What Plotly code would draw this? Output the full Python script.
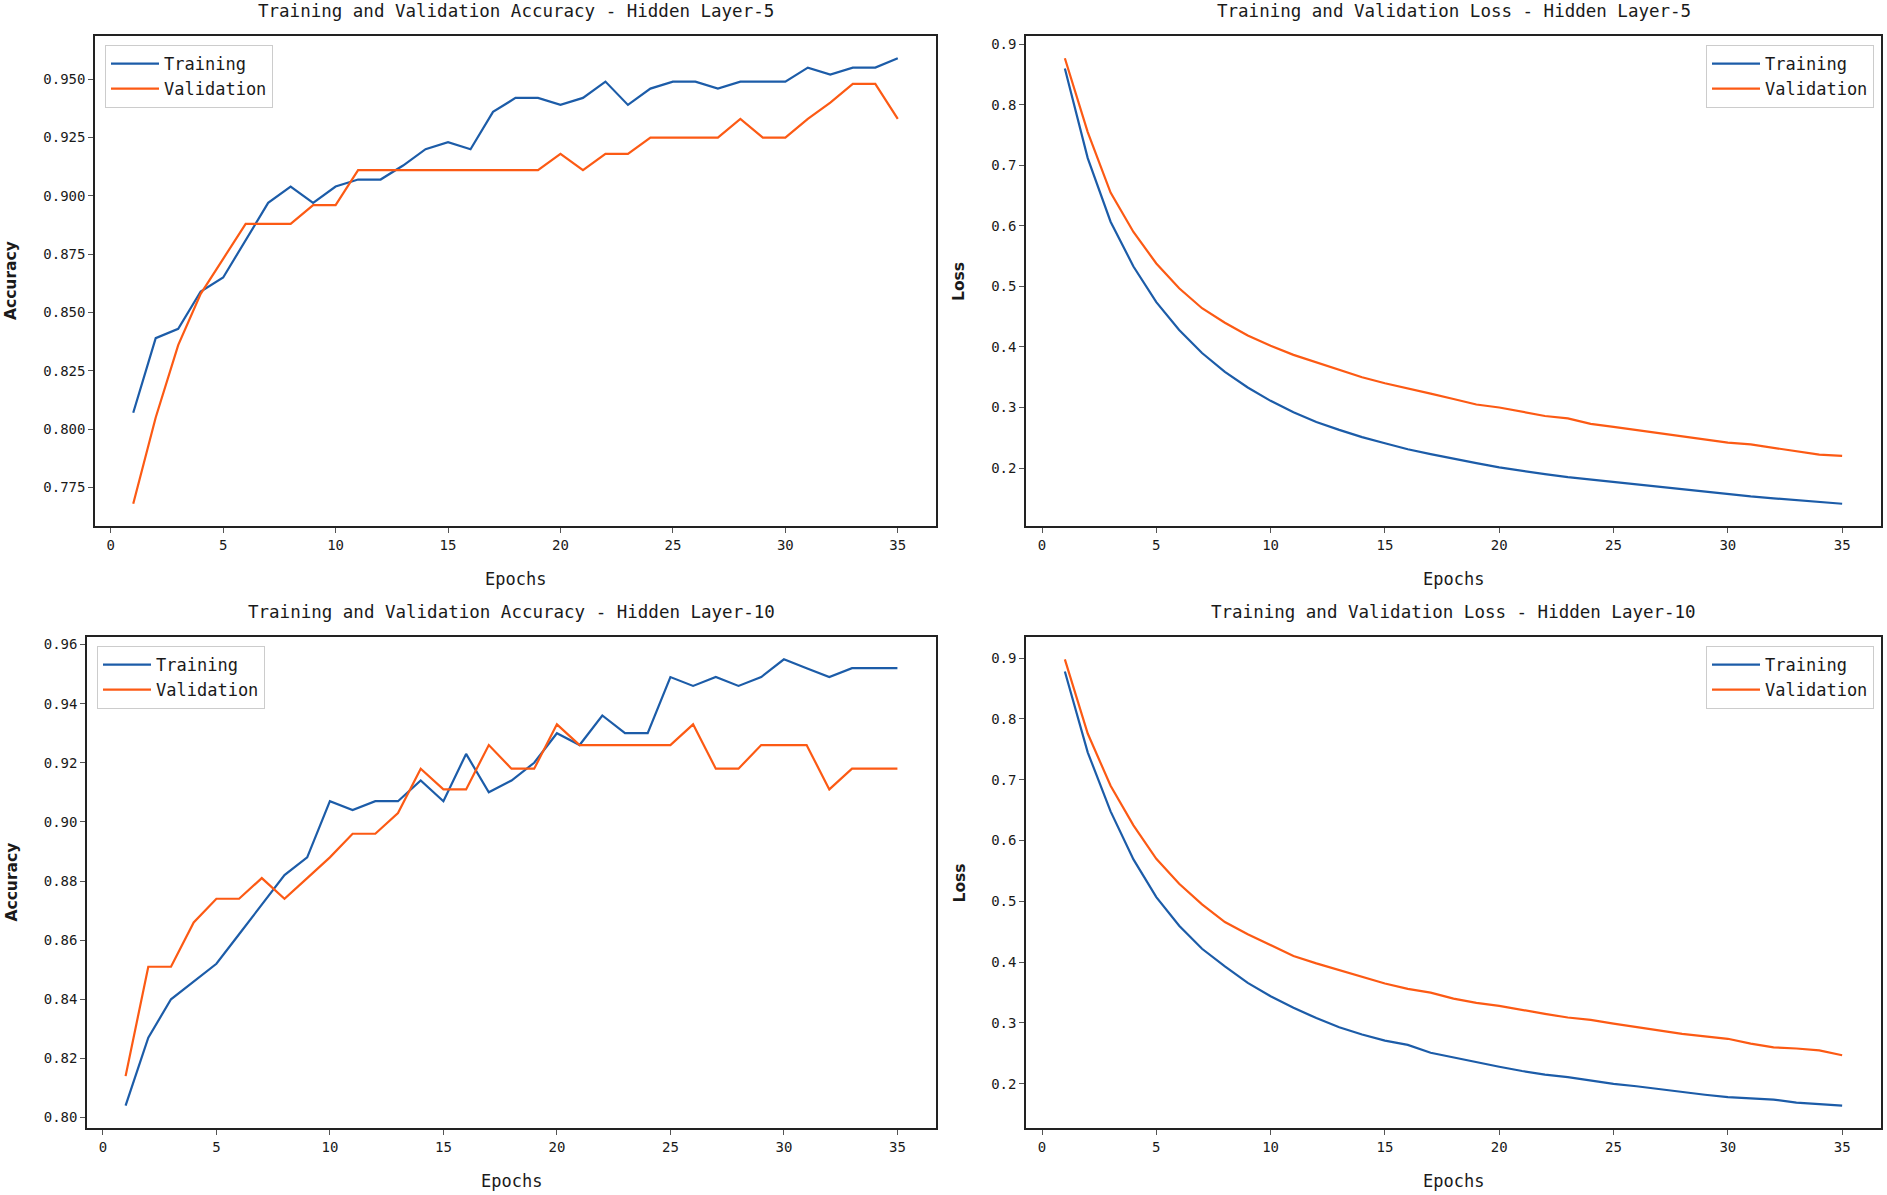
import plotly.graph_objects as go

epochs = list(range(1, 36))

acc5_train = [0.807, 0.839, 0.843, 0.859, 0.865, 0.881, 0.897, 0.904, 0.897, 0.904,
              0.907, 0.907, 0.913, 0.920, 0.923, 0.920, 0.936, 0.942, 0.942, 0.939,
              0.942, 0.949, 0.939, 0.946, 0.949, 0.949, 0.946, 0.949, 0.949, 0.949,
              0.955, 0.952, 0.955, 0.955, 0.959]
acc5_val = [0.768, 0.805, 0.836, 0.858, 0.873, 0.888, 0.888, 0.888, 0.896, 0.896,
            0.911, 0.911, 0.911, 0.911, 0.911, 0.911, 0.911, 0.911, 0.911, 0.918,
            0.911, 0.918, 0.918, 0.925, 0.925, 0.925, 0.925, 0.933, 0.925, 0.925,
            0.933, 0.940, 0.948, 0.948, 0.933]

loss5_train = [0.860, 0.712, 0.607, 0.533, 0.474, 0.428, 0.390, 0.359, 0.333, 0.311,
               0.292, 0.276, 0.263, 0.251, 0.241, 0.231, 0.223, 0.215, 0.208, 0.201,
               0.195, 0.190, 0.185, 0.181, 0.176, 0.172, 0.168, 0.164, 0.160, 0.156,
               0.153, 0.150, 0.147, 0.145, 0.141]
loss5_val = [0.877, 0.755, 0.655, 0.590, 0.538, 0.497, 0.464, 0.440, 0.419, 0.402,
             0.387, 0.375, 0.362, 0.350, 0.340, 0.332, 0.323, 0.314, 0.305, 0.300,
             0.293, 0.286, 0.282, 0.273, 0.268, 0.263, 0.257, 0.252, 0.247, 0.242,
             0.239, 0.233, 0.227, 0.222, 0.220]

acc10_train = [0.804, 0.827, 0.840, 0.846, 0.852, 0.862, 0.872, 0.882, 0.888, 0.907,
               0.904, 0.907, 0.907, 0.914, 0.907, 0.923, 0.910, 0.914, 0.920, 0.930,
               0.926, 0.936, 0.930, 0.930, 0.949, 0.946, 0.949, 0.946, 0.949, 0.955,
               0.952, 0.949, 0.952, 0.952, 0.952]
acc10_val = [0.814, 0.851, 0.851, 0.866, 0.874, 0.874, 0.881, 0.874, 0.881, 0.888,
             0.896, 0.896, 0.903, 0.918, 0.911, 0.911, 0.926, 0.918, 0.918, 0.933,
             0.926, 0.926, 0.926, 0.926, 0.926, 0.933, 0.918, 0.918, 0.926, 0.926,
             0.926, 0.911, 0.918, 0.918, 0.918]

loss10_train = [0.878, 0.745, 0.648, 0.569, 0.507, 0.460, 0.422, 0.393, 0.366, 0.344,
                0.325, 0.308, 0.293, 0.281, 0.271, 0.264, 0.251, 0.243, 0.235, 0.228,
                0.221, 0.215, 0.211, 0.205, 0.200, 0.196, 0.191, 0.187, 0.182, 0.178,
                0.176, 0.174, 0.169, 0.166, 0.164]
loss10_val = [0.898, 0.776, 0.690, 0.625, 0.570, 0.529, 0.495, 0.466, 0.446, 0.428,
              0.410, 0.398, 0.387, 0.377, 0.365, 0.356, 0.350, 0.340, 0.333, 0.328,
              0.321, 0.315, 0.309, 0.305, 0.299, 0.293, 0.287, 0.282, 0.278, 0.274,
              0.266, 0.260, 0.258, 0.255, 0.247]

titles = ["Training and Validation Accuracy - Hidden Layer-5",
          "Training and Validation Loss - Hidden Layer-5",
          "Training and Validation Accuracy - Hidden Layer-10",
          "Training and Validation Loss - Hidden Layer-10"]
ylabels = ["Accuracy", "Loss", "Accuracy", "Loss"]
series_names = ["Training", "Validation"]
x_ticks = [0, 5, 10, 15, 20, 25, 30, 35]
acc5_ticks = [0.775, 0.800, 0.825, 0.850, 0.875, 0.900, 0.925, 0.950]
loss_ticks = [0.2, 0.3, 0.4, 0.5, 0.6, 0.7, 0.8, 0.9]
acc10_ticks = [0.80, 0.82, 0.84, 0.86, 0.88, 0.90, 0.92, 0.94, 0.96]

W, H = 1887, 1195
BLUE = "#1c5ca8"
ORANGE = "#fc5a14"
MONO = "DejaVu Sans Mono"
TXT = "#1a1a1a"

# panel boxes in pixels: (left, right, top, bottom)
boxes = [(95, 936, 36, 526), (1026, 1881, 36, 526),
         (87, 936, 637, 1128), (1026, 1881, 637, 1128)]
data = [(acc5_train, acc5_val), (loss5_train, loss5_val),
        (acc10_train, acc10_val), (loss10_train, loss10_val)]
yticks = [(acc5_ticks, ".3f"), (loss_ticks, ".1f"), (acc10_ticks, ".2f"), (loss_ticks, ".1f")]
legend_pos = ["left", "right", "left", "right"]

fig = go.Figure()
annotations = []

def rng(vals, margin=0.05):
    lo, hi = min(vals), max(vals)
    d = hi - lo
    return [lo - margin * d, hi + margin * d]

for i in range(4):
    l, r, t, b = boxes[i]
    xd = [l / W, r / W]
    yd = [1 - b / H, 1 - t / H]
    sfx = "" if i == 0 else str(i + 1)
    xa = "x" + sfx
    ya = "y" + sfx
    leg = "legend" + sfx
    tr, va = data[i]
    for name, vals, col in zip(series_names, (tr, va), (BLUE, ORANGE)):
        fig.add_trace(go.Scatter(x=epochs, y=vals, mode="lines", name=name,
                                 line=dict(color=col, width=2.2),
                                 xaxis=xa, yaxis=ya, legend=leg))
    ticks, fmt = yticks[i]
    axis_common = dict(showgrid=False, zeroline=False, showline=True, linecolor="#222",
                       linewidth=1.5, mirror=True, ticks="outside", ticklen=5,
                       tickcolor="#555", tickwidth=1,
                       tickfont=dict(family=MONO, size=14, color=TXT))
    fig.layout["xaxis" + sfx] = dict(domain=xd, anchor=ya, range=[-0.7, 36.7],
                                     tickvals=x_ticks, **axis_common)
    fig.layout["yaxis" + sfx] = dict(domain=yd, anchor=xa, range=rng(tr + va),
                                     tickvals=ticks, tickformat=fmt, **axis_common)
    if legend_pos[i] == "left":
        lx, xanchor = (l + 10) / W, "left"
    else:
        lx, xanchor = (r - 7) / W, "right"
    fig.layout[leg] = dict(x=lx, y=1 - (t + 9) / H, xanchor=xanchor, yanchor="top",
                           bgcolor="white", bordercolor="#cccccc", borderwidth=1,
                           font=dict(family=MONO, size=17, color=TXT),
                           tracegroupgap=0, itemwidth=48)
    cx = (l + r) / 2 / W
    annotations.append(dict(text=titles[i], x=cx, y=1 - (t - 25) / H, xref="paper", yref="paper",
                            showarrow=False, xanchor="center", yanchor="middle",
                            font=dict(family=MONO, size=17.5, color=TXT)))
    annotations.append(dict(text="Epochs", x=cx, y=1 - (b + 53) / H, xref="paper", yref="paper",
                            showarrow=False, xanchor="center", yanchor="middle",
                            font=dict(family=MONO, size=17, color=TXT)))
    ylx = 11 if i in (0, 2) else 959
    annotations.append(dict(text="<b>" + ylabels[i] + "</b>", x=ylx / W, y=1 - (t + b) / 2 / H,
                            xref="paper", yref="paper", showarrow=False, textangle=-90,
                            xanchor="center", yanchor="middle",
                            font=dict(family="DejaVu Sans", size=15.5, color=TXT)))

fig.update_layout(width=W, height=H, margin=dict(l=0, r=0, t=0, b=0),
                  paper_bgcolor="white", plot_bgcolor="white",
                  annotations=annotations, showlegend=True)

fig.write_html("out.html", config={"displayModeBar": False},
               post_script="document.body.style.margin='0';")
